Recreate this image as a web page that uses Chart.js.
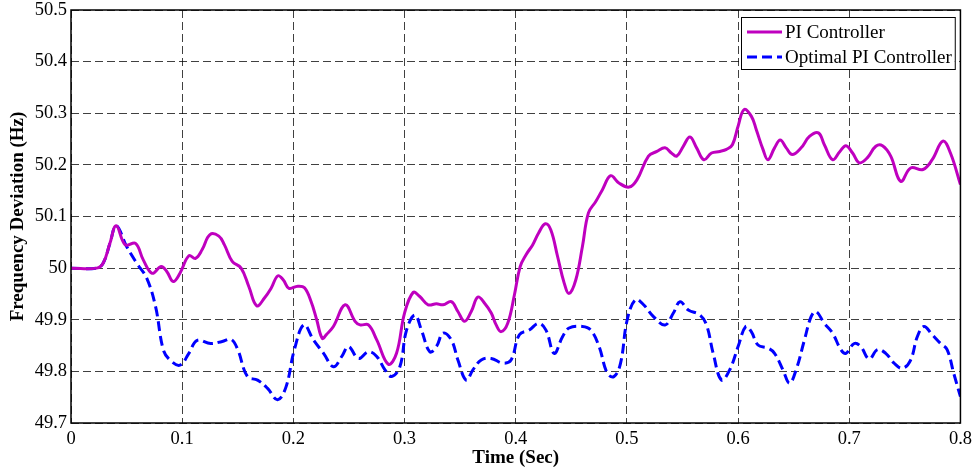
<!DOCTYPE html>
<html>
<head>
<meta charset="utf-8">
<script src="https://cdn.jsdelivr.net/npm/chart.js@4/dist/chart.umd.min.js"></script>
<style>
  html, body { margin: 0; padding: 0; background: #ffffff; }
  canvas { display: block; }
</style>
</head>
<body>
<canvas id="freq" width="977" height="472"></canvas>
<script>
// Frequency response of the two controllers (time in seconds, frequency in Hz)
const piTime = [0, 0.023, 0.029, 0.035, 0.0407, 0.0488, 0.058, 0.065, 0.073, 0.081, 0.086, 0.092, 0.098,
  0.106, 0.112, 0.118, 0.125, 0.133, 0.138, 0.145, 0.153, 0.160, 0.167, 0.174, 0.180, 0.186, 0.191,
  0.196, 0.204, 0.210, 0.216, 0.221, 0.226, 0.230, 0.236, 0.2466, 0.2555, 0.260, 0.2675, 0.275,
  0.2854, 0.2928, 0.300, 0.3078, 0.3137, 0.3212, 0.3287, 0.3346, 0.3421, 0.348, 0.354, 0.360,
  0.366, 0.372, 0.378, 0.3824, 0.3869, 0.3928, 0.3988, 0.404, 0.4093, 0.4152, 0.4206, 0.4266,
  0.4316, 0.4376, 0.4436, 0.448, 0.454, 0.460, 0.4654, 0.472, 0.478, 0.4854, 0.4928, 0.502,
  0.509, 0.5194, 0.527, 0.5343, 0.540, 0.5448, 0.5507, 0.5567, 0.5627, 0.5693, 0.5761, 0.5836,
  0.5896, 0.5949, 0.600, 0.6054, 0.612, 0.6164, 0.6224, 0.6269, 0.6328, 0.6379, 0.6433, 0.6487,
  0.6567, 0.6642, 0.6722, 0.6776, 0.685, 0.6916, 0.697, 0.703, 0.709, 0.7164, 0.7239, 0.7299,
  0.7373, 0.7463, 0.7552, 0.7663, 0.7746, 0.7842, 0.791, 0.800];
const piFreq = [50, 50, 50.01, 50.048, 50.082, 50.045, 50.048, 50.016, 49.99, 50.003, 49.994, 49.974, 49.99,
  50.024, 50.019, 50.036, 50.065, 50.062, 50.045, 50.013, 50.0, 49.964, 49.927, 49.942, 49.961, 49.985, 49.977,
  49.961, 49.965, 49.962, 49.935, 49.9, 49.864, 49.872, 49.887, 49.929, 49.897, 49.89, 49.89, 49.861,
  49.814, 49.835, 49.913, 49.953, 49.945, 49.929, 49.931, 49.929, 49.935, 49.916, 49.897, 49.916,
  49.944, 49.932, 49.913, 49.89, 49.877, 49.893, 49.948, 50.003, 50.026, 50.045, 50.068, 50.086,
  50.074, 50.023, 49.971, 49.951, 49.977, 50.042, 50.107, 50.129, 50.152, 50.179, 50.165, 50.157,
  50.171, 50.217, 50.226, 50.233, 50.223, 50.217, 50.236, 50.254, 50.233, 50.21, 50.223, 50.226,
  50.23, 50.239, 50.275, 50.307, 50.294, 50.268, 50.23, 50.21, 50.233, 50.248, 50.233, 50.22,
  50.233, 50.255, 50.262, 50.239, 50.21, 50.226, 50.237, 50.223, 50.204, 50.214, 50.236, 50.237,
  50.217, 50.168, 50.194, 50.191, 50.21, 50.246, 50.223, 50.162];

const optTime = [0, 0.023, 0.029, 0.035, 0.0407, 0.050, 0.059, 0.068, 0.076, 0.083, 0.089, 0.098, 0.106,
  0.1135, 0.1256, 0.136, 0.144, 0.150, 0.1587, 0.1678, 0.1768, 0.1858, 0.1934, 0.2009, 0.2095, 0.218,
  0.2272, 0.236, 0.2436, 0.2496, 0.2585, 0.2675, 0.275, 0.2824, 0.2884, 0.2958, 0.3018, 0.3093,
  0.3152, 0.3227, 0.3287, 0.3346, 0.3421, 0.348, 0.3555, 0.3615, 0.369, 0.3779, 0.3884, 0.3958,
  0.4033, 0.4122, 0.4206, 0.4272, 0.4346, 0.4421, 0.448, 0.460, 0.4675, 0.475, 0.4824, 0.4884,
  0.4943, 0.5003, 0.5078, 0.515, 0.5239, 0.5343, 0.5418, 0.5478, 0.5552, 0.5657, 0.5716, 0.5776,
  0.5851, 0.5925, 0.600, 0.6069, 0.6119, 0.6179, 0.6269, 0.6328, 0.6403, 0.6463, 0.6522, 0.6597,
  0.6657, 0.6701, 0.6776, 0.685, 0.6925, 0.697, 0.7045, 0.7104, 0.7179, 0.7254, 0.7328, 0.7403,
  0.7478, 0.7552, 0.7612, 0.7672, 0.7746, 0.7821, 0.788, 0.794, 0.800];
const optFreq = [50, 50, 50.01, 50.048, 50.082, 50.042, 50.01, 49.981, 49.926, 49.842, 49.822, 49.812, 49.835,
  49.86, 49.854, 49.858, 49.862, 49.842, 49.79, 49.783, 49.767, 49.745, 49.77, 49.842, 49.89, 49.861,
  49.835, 49.809, 49.829, 49.848, 49.825, 49.838, 49.829, 49.803, 49.79, 49.809, 49.88, 49.909,
  49.88, 49.838, 49.848, 49.874, 49.861, 49.822, 49.783, 49.803, 49.822, 49.825, 49.816, 49.822,
  49.871, 49.88, 49.893, 49.88, 49.835, 49.867, 49.884, 49.887, 49.88, 49.848, 49.796, 49.79,
  49.816, 49.9, 49.939, 49.929, 49.906, 49.89, 49.913, 49.935, 49.919, 49.909, 49.89, 49.835,
  49.783, 49.803, 49.848, 49.887, 49.877, 49.851, 49.845, 49.835, 49.803, 49.777, 49.803, 49.861,
  49.906, 49.916, 49.893, 49.874, 49.842, 49.835, 49.854, 49.848, 49.824, 49.842, 49.835, 49.816,
  49.806, 49.822, 49.867, 49.887, 49.871, 49.854, 49.842, 49.796, 49.751];

const seriesNames = ['PI Controller', 'Optimal PI Controller'];
const xTicks = [0, 0.1, 0.2, 0.3, 0.4, 0.5, 0.6, 0.7, 0.8];
const yTicks = [49.7, 49.8, 49.9, 50, 50.1, 50.2, 50.3, 50.4, 50.5];

const FONT = "'Liberation Serif', 'Times New Roman', serif";
const toPoints = (xs, ys) => xs.map((x, i) => ({ x: x, y: ys[i] }));

// Boxed axes frame drawn over the plot
const framePlugin = {
  id: 'frame',
  afterDatasetsDraw(chart) {
    const { ctx, chartArea: a } = chart;
    ctx.save();
    ctx.strokeStyle = '#000';
    ctx.lineWidth = 1.5;
    ctx.strokeRect(a.left, a.top, a.right - a.left, a.bottom - a.top);
    ctx.restore();
  }
};

// Boxed legend in the upper-right corner of the plot
const boxLegendPlugin = {
  id: 'boxLegend',
  afterDraw(chart) {
    const { ctx, chartArea: a } = chart;
    ctx.save();
    ctx.font = '19px ' + FONT;
    const boxLeft = a.left + 670;
    const boxTop = a.top + 7;
    const lineStart = boxLeft + 6;
    const lineEnd = boxLeft + 41;
    const textX = boxLeft + 44;
    const rowH = 25;
    let maxW = 0;
    chart.data.datasets.forEach(ds => { maxW = Math.max(maxW, ctx.measureText(ds.label).width); });
    const boxW = textX - boxLeft + maxW + 3;
    const boxH = 52;
    ctx.fillStyle = '#fff';
    ctx.fillRect(boxLeft, boxTop, boxW, boxH);
    ctx.strokeStyle = '#000';
    ctx.lineWidth = 1;
    ctx.strokeRect(boxLeft + 0.5, boxTop + 0.5, boxW, boxH);
    chart.data.datasets.forEach((ds, i) => {
      const y = boxTop + 15 + i * rowH;
      ctx.beginPath();
      ctx.strokeStyle = ds.borderColor;
      ctx.lineWidth = ds.borderWidth;
      ctx.setLineDash(ds.borderDash || []);
      ctx.moveTo(lineStart, y);
      ctx.lineTo(lineEnd, y);
      ctx.stroke();
      ctx.setLineDash([]);
      ctx.fillStyle = '#000';
      ctx.textBaseline = 'middle';
      ctx.textAlign = 'left';
      ctx.fillText(ds.label, textX, y + 1);
    });
    ctx.restore();
  }
};

new Chart(document.getElementById('freq'), {
  type: 'line',
  data: {
    datasets: [
      {
        label: seriesNames[0],
        data: toPoints(piTime, piFreq),
        borderColor: '#bf00bf',
        borderWidth: 3,
        pointRadius: 0,
        tension: 0.4,
        fill: false
      },
      {
        label: seriesNames[1],
        data: toPoints(optTime, optFreq),
        borderColor: '#0000ff',
        borderWidth: 3,
        borderDash: [10, 5],
        pointRadius: 0,
        tension: 0.4,
        fill: false
      }
    ]
  },
  options: {
    responsive: false,
    animation: false,
    devicePixelRatio: 1,
    layout: { padding: { left: 0, top: 10, right: 15, bottom: 0 } },
    plugins: {
      legend: { display: false },
      tooltip: { enabled: false }
    },
    scales: {
      x: {
        type: 'linear',
        min: 0,
        max: 0.8,
        afterBuildTicks: s => { s.ticks = xTicks.map(v => ({ value: v })); },
        afterFit: s => { s.height = 49; },
        ticks: {
          padding: 5,
          color: '#000',
          font: { family: FONT, size: 18.5 },
          maxRotation: 0,
          callback: v => String(parseFloat(Number(v).toFixed(1)))
        },
        grid: { color: 'rgba(0,0,0,0.75)', lineWidth: 1, drawTicks: false },
        border: { display: false, dash: [8, 4] },
        title: {
          display: true,
          text: 'Time (Sec)',
          color: '#000',
          font: { family: FONT, size: 19, weight: 'bold' },
          padding: { top: 0, bottom: 3 }
        }
      },
      y: {
        type: 'linear',
        min: 49.7,
        max: 50.5,
        afterBuildTicks: s => { s.ticks = yTicks.map(v => ({ value: v })); },
        afterFit: s => { s.width = 71; },
        ticks: {
          padding: 4,
          color: '#000',
          font: { family: FONT, size: 18.5, lineHeight: 0.6 },
          callback: v => String(parseFloat(Number(v).toFixed(1)))
        },
        grid: { color: 'rgba(0,0,0,0.75)', lineWidth: 1, drawTicks: false },
        border: { display: false, dash: [8, 4] },
        title: {
          display: true,
          text: 'Frequency Deviation (Hz)',
          color: '#000',
          font: { family: FONT, size: 19, weight: 'bold' },
          padding: { top: 7, bottom: 0 }
        }
      }
    }
  },
  plugins: [framePlugin, boxLegendPlugin]
});
</script>
</body>
</html>
